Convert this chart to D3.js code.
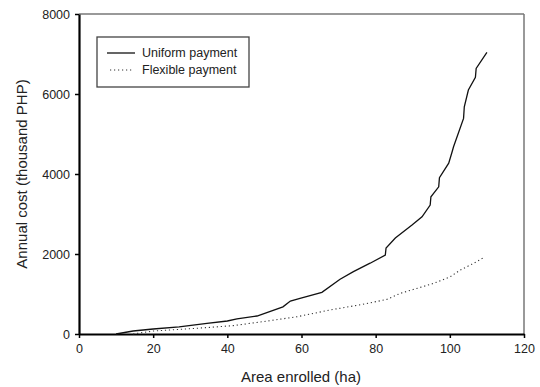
<!DOCTYPE html>
<html><head><meta charset="utf-8">
<script src="https://cdn.jsdelivr.net/npm/d3@7"></script>
<style>body{margin:0;background:#fff}svg{display:block}text{font-family:"Liberation Sans",Arial,sans-serif}</style>
</head><body><svg id="c" width="540" height="387"></svg>
<script>
const xTicks = [0,20,40,60,80,100,120];
const yTicks = [0,2000,4000,6000,8000];
const uniformArea = [10,14.6,20,27,34.5,40,42.6,48,55,57,59.6,65.5,70.4,74,78.5,82.6,82.8,85.3,89.8,92.5,94.7,94.9,97,97.2,99.7,100.6,101,103.7,103.9,105,106.9,107.1,110];
const uniformCost = [0,75,125,180,265,325,380,450,680,825,890,1040,1370,1560,1770,1975,2150,2400,2725,2930,3225,3430,3680,3910,4270,4550,4680,5390,5680,6100,6420,6640,7040];
const flexArea = [14.6,20,27,34.5,41.6,49.7,58.7,67.7,77,83,86.6,95.6,100.1,102.8,106.4,109.5];
const flexCost = [0,75,115,160,210,310,430,600,750,865,1015,1265,1430,1600,1765,1930];
const legendLabels = ["Uniform payment","Flexible payment"];

const svg = d3.select("#c");
const x = d3.scaleLinear().domain([0,120]).range([79,524]);
const y = d3.scaleLinear().domain([0,8000]).range([334,14]);

svg.append("line").attr("x1",x(0)).attr("x2",x(120)).attr("y1",y(8000)).attr("y2",y(8000)).attr("stroke","#777").attr("stroke-width",1.5);
svg.append("line").attr("x1",x(120)).attr("x2",x(120)).attr("y1",y(8000)).attr("y2",y(0)).attr("stroke","#777").attr("stroke-width",1.5);

const xa = svg.append("g").attr("transform",`translate(0,${y(0)})`)
  .call(d3.axisBottom(x).tickValues(xTicks).tickSize(4).tickSizeOuter(0).tickPadding(6));
const ya = svg.append("g").attr("transform",`translate(${x(0)},0)`)
  .call(d3.axisLeft(y).tickValues(yTicks).tickSize(4).tickSizeOuter(0).tickPadding(5).tickFormat(d3.format("d")));
[xa,ya].forEach(a=>{
  a.select(".domain").attr("stroke","#000").attr("stroke-width",2.2);
  a.selectAll(".tick line").attr("stroke","#000").attr("stroke-width",1.5);
  a.selectAll(".tick text").attr("fill","#222").style("font-size","12.5px").style("font-family","Liberation Sans, Arial, sans-serif");
});

const uni = uniformArea.map((a,i)=>[a,uniformCost[i]]);
const flex = flexArea.map((a,i)=>[a,flexCost[i]]);
const line = d3.line().x(d=>x(d[0])).y(d=>y(d[1]));
svg.append("path").attr("d",line(uni)).attr("fill","none").attr("stroke","#111").attr("stroke-width",1.3);
svg.append("path").attr("d",line(flex)).attr("fill","none").attr("stroke","#333").attr("stroke-width",1.1).attr("stroke-dasharray","1.2,2.8");

const lg = svg.append("g");
lg.append("rect").attr("x",97).attr("y",37).attr("width",152).attr("height",50).attr("fill","#fff").attr("stroke","#444").attr("stroke-width",1.3);
lg.append("line").attr("x1",107).attr("x2",135).attr("y1",53).attr("y2",53).attr("stroke","#111").attr("stroke-width",1.3);
lg.append("line").attr("x1",110).attr("x2",133).attr("y1",70).attr("y2",70).attr("stroke","#333").attr("stroke-width",1.1).attr("stroke-dasharray","1.2,2.8");
legendLabels.forEach((t,i)=>lg.append("text").attr("x",142).attr("y",57+i*17).attr("fill","#222").style("font-size","12.5px").text(t));

svg.append("text").attr("x",301).attr("y",382).attr("text-anchor","middle").attr("fill","#222").style("font-size","15px").text("Area enrolled (ha)");
svg.append("text").attr("transform","translate(27,174) rotate(-90)").attr("text-anchor","middle").attr("fill","#222").style("font-size","15px").text("Annual cost (thousand PHP)");
</script></body></html>
